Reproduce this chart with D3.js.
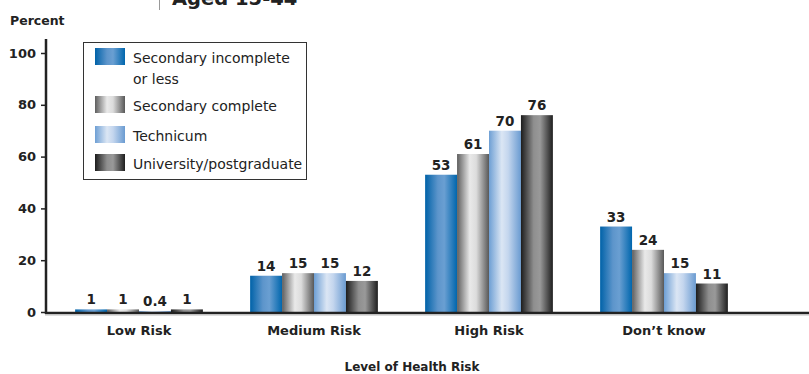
<!DOCTYPE html>
<html>
<head>
<meta charset="utf-8">
<script src="https://cdn.jsdelivr.net/npm/d3@7"></script>
<style>
  body { margin: 0; background: #fff; }
  svg { display: block; font-family: "DejaVu Sans", Verdana, sans-serif; }
</style>
</head>
<body>
<svg id="chart" width="809" height="374"></svg>
<script>
const categories = ["Low Risk", "Medium Risk", "High Risk", "Don\u2019t know"];
const seriesNames = ["Secondary incomplete or less", "Secondary complete", "Technicum", "University/postgraduate"];
const secondaryIncomplete = [1, 14, 53, 33];
const secondaryComplete = [1, 15, 61, 24];
const technicum = [0.4, 15, 70, 15];
const university = [1, 12, 76, 11];
const yTicks = [0, 20, 40, 60, 80, 100];

const series = [secondaryIncomplete, secondaryComplete, technicum, university];

// gradient stops per series (edge / middle / edge)
const gradients = [
  ["#0062a8", "#5d95cb", "#6a9fd2", "#0066ad"],
  ["#5e5e5e", "#e9e9e9", "#dcdcdc", "#585858"],
  ["#6e9fd4", "#dbe6f4", "#c4d6ee", "#6a9bd1"],
  ["#1c1c1c", "#8f8f8f", "#999999", "#1e1e1e"]
];

const svg = d3.select("#chart");
const W = 809, H = 374;

const defs = svg.append("defs");
gradients.forEach((g, i) => {
  const lg = defs.append("linearGradient").attr("id", "grad" + i)
    .attr("x1", "0%").attr("x2", "100%").attr("y1", "0%").attr("y2", "0%");
  lg.append("stop").attr("offset", "0%").attr("stop-color", g[0]);
  lg.append("stop").attr("offset", "40%").attr("stop-color", g[1]);
  lg.append("stop").attr("offset", "60%").attr("stop-color", g[2]);
  lg.append("stop").attr("offset", "100%").attr("stop-color", g[3]);
});

const x0 = d3.scaleBand().domain(categories).range([51.5, 751.5])
  .paddingInner(0.27).paddingOuter(0.135);
const x1 = d3.scaleBand().domain(d3.range(series.length)).range([0, x0.bandwidth()]);
const y = d3.scaleLinear().domain([0, 100]).range([312, 53]);

// title fragment at top (cut off in the original)
svg.append("line").attr("x1", 159.5).attr("x2", 159.5).attr("y1", 0).attr("y2", 10)
  .attr("stroke", "#999").attr("stroke-width", 1);
svg.append("text").attr("x", 172).attr("y", 5)
  .attr("font-size", 19.5).attr("font-weight", "bold").attr("fill", "#222")
  .text("Aged 15-44");

svg.append("text").attr("x", 10).attr("y", 25)
  .attr("font-size", 12.5).attr("font-weight", "bold").attr("fill", "#222")
  .text("Percent");

// bars
const groups = svg.append("g").selectAll("g")
  .data(categories).join("g")
  .attr("transform", c => `translate(${x0(c)},0)`);

groups.each(function(c, ci) {
  const g = d3.select(this);
  series.forEach((s, si) => {
    g.append("rect")
      .attr("x", x1(si))
      .attr("y", y(s[ci]))
      .attr("width", x1.bandwidth())
      .attr("height", y(0) - y(s[ci]))
      .attr("fill", `url(#grad${si})`);
    g.append("text")
      .attr("x", x1(si) + x1.bandwidth() / 2)
      .attr("y", y(s[ci]) - 5)
      .attr("text-anchor", "middle")
      .attr("font-size", 13.5).attr("font-weight", "bold").attr("fill", "#222")
      .text(s[ci]);
  });
});

// y axis
const yAxis = svg.append("g").attr("transform", "translate(46,0)")
  .call(d3.axisLeft(y).tickValues(yTicks).tickSize(5).tickPadding(5));
yAxis.select(".domain").remove();
yAxis.selectAll(".tick line").attr("stroke", "#222").attr("stroke-width", 1.5);
yAxis.selectAll(".tick text").attr("font-size", 13).attr("font-weight", "bold")
  .attr("fill", "#222").attr("font-family", "DejaVu Sans, Verdana, sans-serif");
svg.append("line").attr("x1", 46).attr("x2", 46).attr("y1", 39).attr("y2", 314)
  .attr("stroke", "#222").attr("stroke-width", 2.5);

// x baseline
svg.append("line").attr("x1", 45).attr("x2", W).attr("y1", 313).attr("y2", 313)
  .attr("stroke", "#222").attr("stroke-width", 2.5);
svg.append("line").attr("x1", 45).attr("x2", W).attr("y1", 315).attr("y2", 315)
  .attr("stroke", "#bbb").attr("stroke-width", 1);

// category labels
svg.append("g").selectAll("text").data(categories).join("text")
  .attr("x", c => x0(c) + x0.bandwidth() / 2)
  .attr("y", 335)
  .attr("text-anchor", "middle")
  .attr("font-size", 13).attr("font-weight", "bold").attr("fill", "#222")
  .text(c => c);

svg.append("text").attr("x", 412).attr("y", 371)
  .attr("text-anchor", "middle")
  .attr("font-size", 12).attr("font-weight", "bold").attr("fill", "#222")
  .text("Level of Health Risk");

// legend
const legend = svg.append("g");
legend.append("rect").attr("x", 83.5).attr("y", 42.5).attr("width", 223).attr("height", 137)
  .attr("fill", "#fff").attr("stroke", "#333").attr("stroke-width", 1);
const legendRows = [
  { lines: ["Secondary incomplete", "or less"], sy: 48, ty: 63 },
  { lines: ["Secondary complete"], sy: 96, ty: 111 },
  { lines: ["Technicum"], sy: 126, ty: 141 },
  { lines: ["University/postgraduate"], sy: 154, ty: 169 }
];
legendRows.forEach((r, i) => {
  legend.append("rect").attr("x", 95).attr("y", r.sy).attr("width", 30).attr("height", 17)
    .attr("fill", `url(#grad${i})`);
  r.lines.forEach((ln, li) => {
    legend.append("text").attr("x", 133).attr("y", r.ty + li * 21)
      .attr("font-size", 14).attr("fill", "#222")
      .text(ln);
  });
});
</script>
</body>
</html>
